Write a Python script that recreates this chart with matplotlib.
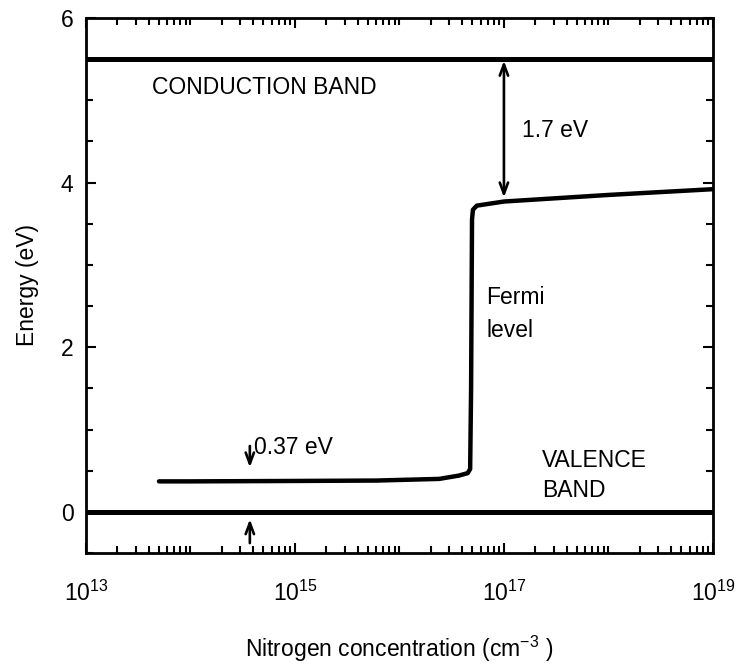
"""
Fermi level position vs nitrogen concentration
"""

import matplotlib
matplotlib.use('Agg')
import matplotlib.pyplot as plt
from matplotlib.ticker import LogLocator, FixedLocator, MultipleLocator, NullFormatter

plt.rcParams['font.family'] = ['Liberation Sans', 'DejaVu Sans']
plt.rcParams['mathtext.fontset'] = 'custom'
plt.rcParams['mathtext.rm'] = 'Liberation Sans'
plt.rcParams['mathtext.default'] = 'regular'

# Fermi level (eV) vs nitrogen concentration (cm^-3)
nitrogen_conc = [5e13, 1e14, 1e15, 6e15, 2.4e16, 3.7e16, 4.5e16, 4.75e16,
                 4.85e16, 4.95e16, 5.05e16, 5.5e16, 1e17, 1e18, 1e19]
fermi_level = [0.37, 0.37, 0.375, 0.38, 0.40, 0.44, 0.47, 0.52,
               1.5, 3.55, 3.67, 3.72, 3.77, 3.85, 3.92]

conduction_band = 5.5
valence_band = 0.0
gap_top = 1.7          # conduction band minus Fermi level at high doping
gap_bottom = 0.37      # Fermi level minus valence band at low doping

x_ticks = [1e13, 1e15, 1e17, 1e19]
x_tick_labels = ['10$^{13}$', '10$^{15}$', '10$^{17}$', '10$^{19}$']
y_ticks = [0, 2, 4, 6]

FS = 16.5

fig = plt.figure(figsize=(7.38, 6.66), dpi=100)
ax = fig.add_axes([0.1165, 0.1697, 0.8495, 0.8033])

# Band edges
ax.axhline(conduction_band, color='black', lw=3.6, zorder=3)
ax.axhline(valence_band, color='black', lw=3.6, zorder=3)

# Fermi level curve
ax.plot(nitrogen_conc, fermi_level, color='black', lw=3.2,
        solid_joinstyle='round', solid_capstyle='round', zorder=3)

ax.set_xscale('log')
ax.set_xlim(1e13, 1e19)
ax.set_ylim(-0.5, 6)

# Ticks
ax.xaxis.set_major_locator(FixedLocator(x_ticks))
ax.set_xticklabels(x_tick_labels)
ax.xaxis.set_minor_locator(LogLocator(base=10, subs=range(1, 10), numticks=50))
ax.xaxis.set_minor_formatter(NullFormatter())
ax.yaxis.set_major_locator(FixedLocator(y_ticks))
ax.yaxis.set_minor_locator(MultipleLocator(0.5))
ax.tick_params(which='both', direction='in', top=True, right=True,
               labelsize=FS, width=1.5)
ax.tick_params(which='major', length=7)
ax.tick_params(which='minor', length=5)
ax.tick_params(axis='x', which='major', pad=20)
ax.tick_params(axis='y', which='major', pad=9)

for spine in ax.spines.values():
    spine.set_linewidth(2)

ax.set_xlabel('Nitrogen concentration (cm$^{-3}$ )', fontsize=FS, labelpad=20)
ax.set_ylabel('Energy (eV)', fontsize=FS, labelpad=16)

# Band labels
ax.text(4.3e13, 5.15, 'CONDUCTION BAND', fontsize=FS, va='center', ha='left')
ax.text(2.3e17, 0.62, 'VALENCE', fontsize=FS, va='center', ha='left')
ax.text(2.3e17, 0.26, 'BAND', fontsize=FS, va='center', ha='left')
ax.text(6.8e16, 2.6, 'Fermi', fontsize=FS, va='center', ha='left')
ax.text(6.8e16, 2.2, 'level', fontsize=FS, va='center', ha='left')

arrow_style = dict(lw=1.9, color='black', shrinkA=0, shrinkB=0)

# 1.7 eV gap arrow
arrow_x = 1e17
ax.annotate('', xy=(arrow_x, conduction_band - gap_top + 0.02),
            xytext=(arrow_x, conduction_band - 0.02),
            arrowprops=dict(arrowstyle='<->,head_length=0.8,head_width=0.3',
                            **arrow_style))
ax.text(1.5e17, 4.63, '%.1f eV' % gap_top, fontsize=FS, va='center', ha='left')

# 0.37 eV arrows (pointing at the gap from outside)
small_x = 3.7e14
ax.annotate('', xy=(small_x, gap_bottom + 0.17), xytext=(small_x, 0.80),
            arrowprops=dict(arrowstyle='->,head_length=0.8,head_width=0.3',
                            **arrow_style))
ax.annotate('', xy=(small_x, valence_band - 0.09), xytext=(small_x, -0.38),
            arrowprops=dict(arrowstyle='->,head_length=0.8,head_width=0.3',
                            **arrow_style))
ax.text(4.1e14, 0.78, '%.2f eV' % gap_bottom, fontsize=FS, va='center', ha='left')

plt.savefig('out.png', dpi=100)
